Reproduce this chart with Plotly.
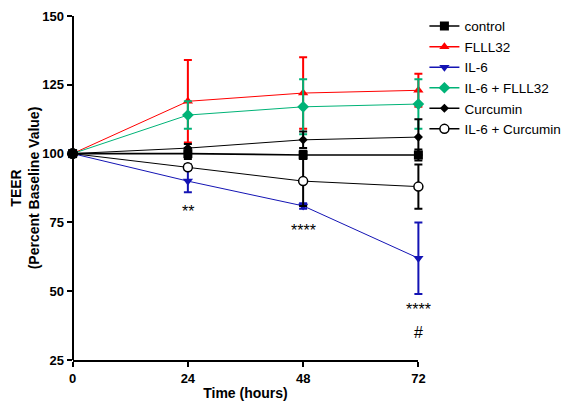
import plotly.graph_objects as go

time_h = [0, 24, 48, 72]

control = [100, 100, 99.5, 99.5]
control_err = [0, 2, 1.5, 2]
flll32 = [100, 119, 122, 123]
flll32_err = [0, 15, 13, 6]
il6 = [100, 90, 81, 62]
il6_err = [0, 4, 1, 13]
il6_flll32 = [100, 114, 117, 118]
il6_flll32_err = [0, 5, 10, 9]
curcumin = [100, 102, 105, 106]
curcumin_err = [0, 1.5, 3, 6.5]
il6_curcumin = [100, 95, 90, 88]
il6_curcumin_err = [0, 1, 9, 8]

sig_x = [24, 48, 72, 72]
sig_y = [79, 72, 43.5, 35]
sig_text = ["**", "****", "****", "#"]

FONT = "Liberation Sans, Arial"

# data axis padded so error-bar caps at 0 and 72 are not clipped
PAD = 2.0
X0, X1 = 0, 72
SPAN = (X1 - X0) + 2 * PAD
PX_PER_H = 345 / (X1 - X0)
PAD_PX = PAD * PX_PER_H

series = [
    ("control", control, control_err, "#000000", "square", 9, 1.6),
    ("FLLL32", flll32, flll32_err, "#FF0000", "triangle-up", 9, 1),
    ("IL-6", il6, il6_err, "#1414B4", "triangle-down", 9, 1),
    ("IL-6 + FLLL32", il6_flll32, il6_flll32_err, "#00B377", "diamond", 9, 1),
    ("Curcumin", curcumin, curcumin_err, "#000000", "diamond", 7, 1),
    ("IL-6 + Curcumin", il6_curcumin, il6_curcumin_err, "#000000", "circle-open", 9, 1),
]


def marker_for(color, sym, size):
    if sym == "circle-open":
        return dict(symbol="circle", size=size, color="white", line=dict(color=color, width=1.5))
    return dict(symbol=sym, size=size, color=color)


fig = go.Figure()
# invisible trace that makes the visible axis frame (x2) exist
fig.add_trace(go.Scatter(x=[None], y=[None], xaxis="x2", yaxis="y", showlegend=False,
                         hoverinfo="skip"))
for name, vals, err, color, sym, size, lw in series:
    fig.add_trace(go.Scatter(
        x=time_h, y=vals, name=name, mode="lines+markers",
        line=dict(color=color, width=lw),
        marker=marker_for(color, sym, size),
        error_y=dict(type="data", array=err, visible=True, color=color, thickness=2, width=4),
        cliponaxis=False, showlegend=False,
    ))
# a black dot at the shared baseline point (all groups start at 100 %)
fig.add_trace(go.Scatter(x=time_h[:1], y=control[:1], mode="markers", showlegend=False,
                         marker=dict(symbol="circle", size=11, color="black"), cliponaxis=False))
for name, vals, err, color, sym, size, lw in series:
    fig.add_trace(go.Scatter(
        x=[None], y=[None], name=name, mode="lines+markers",
        line=dict(color=color, width=1.5), marker=marker_for(color, sym, size), showlegend=True,
    ))

for xv, yv, t in zip(sig_x, sig_y, sig_text):
    fig.add_annotation(x=xv, y=yv, text=t, showarrow=False,
                       font=dict(size=16, color="black", family=FONT))

left = 65 - PAD_PX
plot_w = 345 + 2 * PAD_PX
right = 567 - left - plot_w
dom0 = PAD / SPAN
dom1 = 1 - PAD / SPAN

fig.update_layout(
    width=567, height=394,
    margin=dict(l=left, r=right, t=8, b=42, autoexpand=False),
    plot_bgcolor="rgba(0,0,0,0)", paper_bgcolor="white",
    font=dict(family=FONT, color="black", size=13),
    showlegend=True,
    legend=dict(x=(424 - 8 - left) / plot_w, y=1.015, xanchor="left", yanchor="top",
                font=dict(size=13.5, family=FONT),
                bgcolor="rgba(0,0,0,0)", tracegroupgap=0, itemwidth=30),
    xaxis=dict(range=[X0 - PAD, X1 + PAD], domain=[0, 1], visible=False, automargin=False,
               showgrid=False, zeroline=False),
    xaxis2=dict(range=[X0, X1], domain=[dom0, dom1], anchor="y",
                tickvals=[0, 24, 48, 72], showline=True, linecolor="black",
                linewidth=2, ticks="outside", tickwidth=2, ticklen=5, tickcolor="black",
                showgrid=False, zeroline=False, automargin=False,
                tickfont=dict(size=13, family=FONT, weight="bold"),
                title=dict(text="<b>Time (hours)</b>", font=dict(size=14), standoff=4)),
    yaxis=dict(range=[25, 150], tickvals=[25, 50, 75, 100, 125, 150], showline=True,
               anchor="free", position=dom0,
               linecolor="black", linewidth=2, ticks="outside", tickwidth=2, ticklen=5,
               tickcolor="black", showgrid=False, zeroline=False, automargin=False,
               tickfont=dict(size=13, family=FONT, weight="bold"),
               title=dict(text="<b>TEER</b><br><b>(Percent Baseline Value)</b>", font=dict(size=14), standoff=6)),
)

fig.write_html("out.html")
